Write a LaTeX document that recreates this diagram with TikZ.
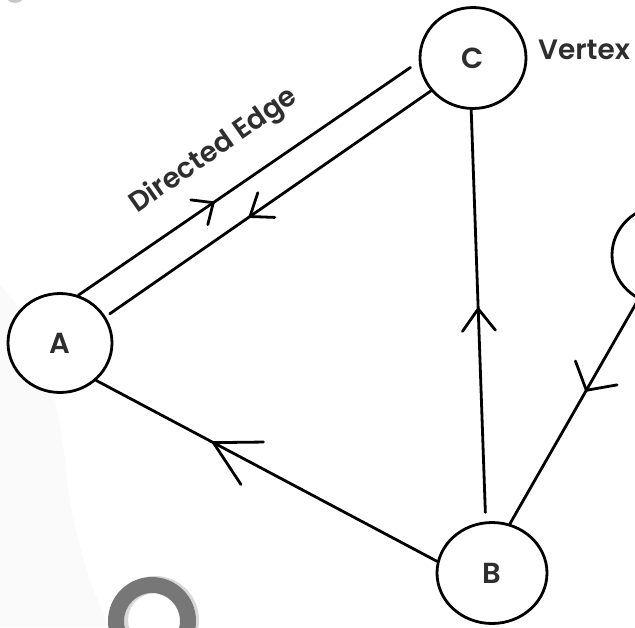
\documentclass[tikz,border=0pt]{standalone}
\usepackage{fontspec}
\setmainfont{Poppins}
\IfFontExistsTF{Poppins SemiBold}
  {\newfontfamily\lblfont{Poppins SemiBold}}
  {\IfFontExistsTF{Poppins Medium}
     {\newfontfamily\lblfont{Poppins Medium}}
     {\newfontfamily\lblfont{Poppins}[FakeBold=2]}}
\usetikzlibrary{arrows.meta,decorations.markings,shapes.geometric}
\definecolor{txt}{HTML}{2E2E2E}
\definecolor{ringgrey}{HTML}{777777}
\definecolor{ringshade}{HTML}{D8D8D8}
\definecolor{bgfaint}{HTML}{FAFAFA}
\tikzset{
  vtx/.style={ellipse, draw=black, line width=2.8pt, fill=white, inner sep=0pt,
    minimum width=104pt, minimum height=99pt, text=txt, font=\lblfont\fontsize{29}{30}\selectfont},
  lbl/.style={text=txt, inner sep=0pt, font=\lblfont\fontsize{28}{30}\selectfont},
  edge/.style={draw=black, line width=2.8pt, line cap=round},
  marr/.style n args={3}{postaction={decorate}, decoration={markings,
    mark=at position #1 with {\arrow{Straight Barb[length=#2, width=#3, line width=2.8pt, round]}}}}
}
\begin{document}
\begin{tikzpicture}[x=1pt,y=-1pt]
\useasboundingbox (0,0) rectangle (635,627);
\fill[white] (0,0) rectangle (635,627);
\fill[bgfaint] (0,285) .. controls (40,325) and (60,400) .. (67,480)
  .. controls (75,545) and (95,600) .. (110,627) -- (0,627) -- cycle;
% decorative rings
\begin{scope}
  \clip (0,0) rectangle (635,627);
  \fill[ringshade, even odd rule] (155,620) circle (44) (155,620) circle (27);
  \fill[ringgrey, even odd rule] (152,621) circle (44) (152,621) circle (28);
  \fill[gray!45] (15,-8) circle (11);
\end{scope}
% vertices
\node[vtx, minimum width=106pt, minimum height=101pt] (C) at (473,58) {C};
\node[vtx] (A) at (60,343) {A};
\node[vtx, minimum width=110pt, minimum height=101pt] (B) at (492,573) {B};
\node[vtx] (D) at (664,255) {};
% labels
\node[lbl, anchor=base west] (vlabel) at (538,59) {Vertex};
\node[lbl, anchor=base west, rotate=35] (dlabel) at (137,214) {Directed Edge};
% edges
\draw[edge, shorten >=10pt, marr={0.40}{17pt}{30pt}] (A.69) -- (C.184);
\draw[edge, shorten >=5pt, marr={0.56}{20pt}{30pt}] (C.218) -- (A.30);
\draw[edge, marr={0.66}{44pt}{48pt}] (B.168) -- (A.314);
\draw[edge, shorten <=9pt, marr={0.52}{22pt}{33pt}] (B.97) -- (C.268);
\draw[edge, marr={0.41}{20pt}{48pt}] (D.240) -- (B.70);
\end{tikzpicture}
\end{document}
